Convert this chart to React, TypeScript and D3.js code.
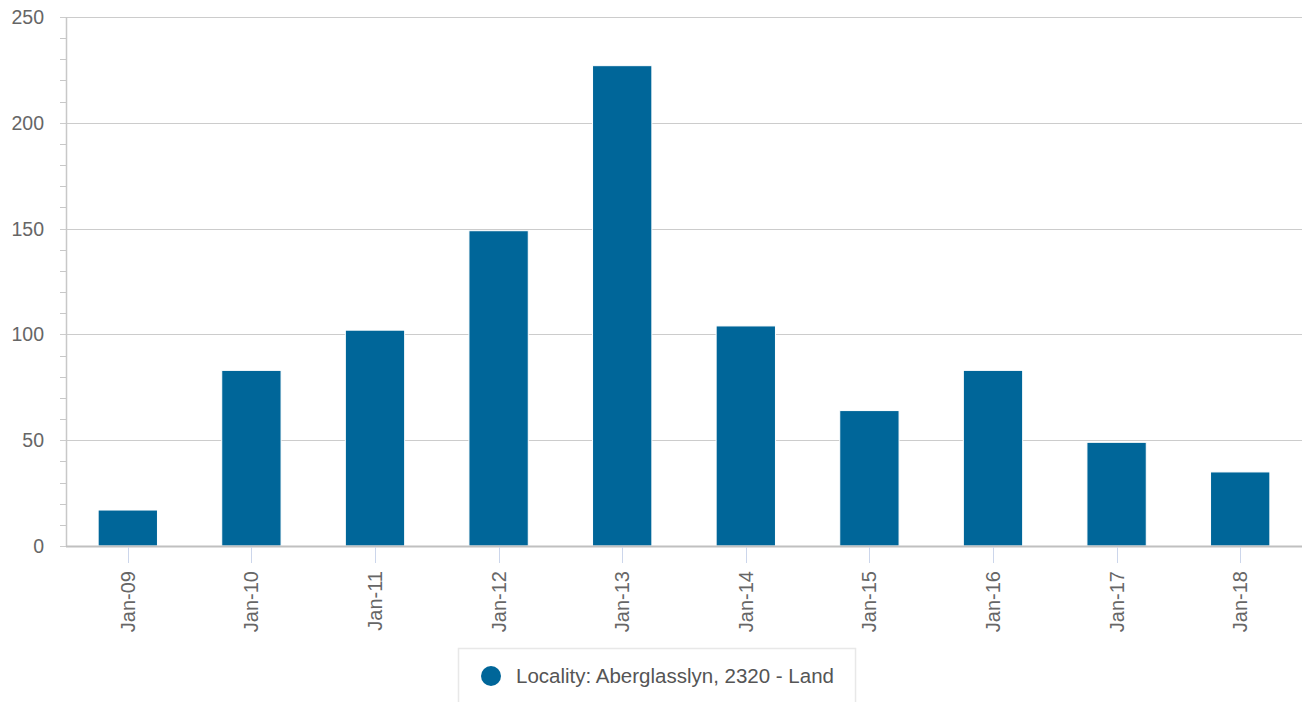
import React, { useEffect, useRef } from "react";
import * as d3 from "d3";

const categories = ["Jan-09", "Jan-10", "Jan-11", "Jan-12", "Jan-13", "Jan-14", "Jan-15", "Jan-16", "Jan-17", "Jan-18"];
const values = [17, 83, 102, 149, 227, 104, 64, 83, 49, 35];
const yTicks = [0, 50, 100, 150, 200, 250];
const seriesName = "Locality: Aberglasslyn, 2320 - Land";

const W = 1302;
const H = 702;
const margin = { top: 17, right: 0, bottom: 156, left: 66 };
const font = "'Liberation Sans', Arial, Helvetica, sans-serif";
const barColor = "#006699";

const App: React.FC = () => {
  const svgRef = useRef<SVGSVGElement | null>(null);

  useEffect(() => {
    if (!svgRef.current) return;
    const svg = d3.select(svgRef.current);
    svg.selectAll("*").remove();

    const innerW = W - margin.left - margin.right;
    const innerH = H - margin.top - margin.bottom;

    const x = d3.scaleBand().domain(categories).range([0, innerW]).paddingInner(0.52).paddingOuter(0.26);
    const y = d3.scaleLinear().domain([0, 250]).range([innerH, 0]);

    const g = svg.append("g").attr("transform", `translate(${margin.left},${margin.top})`);

    // minor ticks on y axis
    const minor = d3.range(0, 251, 10).filter((v) => v % 50 !== 0);
    g.selectAll(".minor")
      .data(minor)
      .enter()
      .append("line")
      .attr("x1", -6)
      .attr("x2", 0)
      .attr("y1", (d) => Math.round(y(d)) + 0.5)
      .attr("y2", (d) => Math.round(y(d)) + 0.5)
      .attr("stroke", "#c8c8c8");

    // gridlines
    g.selectAll(".grid")
      .data(yTicks)
      .enter()
      .append("line")
      .attr("x1", -6)
      .attr("x2", innerW)
      .attr("y1", (d) => Math.round(y(d)) + 0.5)
      .attr("y2", (d) => Math.round(y(d)) + 0.5)
      .attr("stroke", "#cccccc")
      .attr("stroke-width", 1.2);

    // y axis line
    g.append("line")
      .attr("x1", 0.5)
      .attr("x2", 0.5)
      .attr("y1", 0)
      .attr("y2", innerH)
      .attr("stroke", "#c8c8c8")
      .attr("stroke-width", 1.5);

    g.selectAll(".ylabel")
      .data(yTicks)
      .enter()
      .append("text")
      .attr("x", -22)
      .attr("y", (d) => y(d) + 7)
      .attr("text-anchor", "end")
      .style("font-family", font)
      .style("font-size", "19.5px")
      .attr("fill", "#666666")
      .text((d) => d);

    // bars
    g.selectAll(".bar")
      .data(values)
      .enter()
      .append("rect")
      .attr("x", (_, i) => x(categories[i])!)
      .attr("width", x.bandwidth())
      .attr("y", (d) => y(d))
      .attr("height", (d) => innerH - y(d))
      .attr("fill", barColor)
      .attr("stroke", "#ffffff")
      .attr("stroke-width", 1);

    // x axis line
    g.append("line")
      .attr("x1", 0)
      .attr("x2", innerW)
      .attr("y1", innerH + 0.5)
      .attr("y2", innerH + 0.5)
      .attr("stroke", "#c0c0c0")
      .attr("stroke-width", 2);

    // x ticks
    g.selectAll(".xtick")
      .data(categories)
      .enter()
      .append("line")
      .attr("x1", (d) => Math.round(x(d)! + x.bandwidth() / 2) + 0.5)
      .attr("x2", (d) => Math.round(x(d)! + x.bandwidth() / 2) + 0.5)
      .attr("y1", innerH + 1)
      .attr("y2", innerH + 17)
      .attr("stroke", "#ccd6eb");

    g.selectAll(".xlabel")
      .data(categories)
      .enter()
      .append("text")
      .attr("transform", (d) => `translate(${x(d)! + x.bandwidth() / 2 + 7},${innerH + 25}) rotate(-90)`)
      .attr("text-anchor", "end")
      .style("font-family", font)
      .style("font-size", "20px")
      .attr("fill", "#666666")
      .text((d) => d);

    // legend
    const lg = svg.append("g").attr("transform", "translate(458,648)");
    lg.append("rect")
      .attr("x", 0.5)
      .attr("y", 0.5)
      .attr("width", 397)
      .attr("height", 60)
      .attr("fill", "#ffffff")
      .attr("stroke", "#e8e8e8")
      .attr("stroke-width", 1.5);
    lg.append("circle").attr("cx", 33).attr("cy", 28).attr("r", 10).attr("fill", barColor);
    lg.append("text")
      .attr("x", 58)
      .attr("y", 35)
      .style("font-family", font)
      .style("font-size", "20.5px")
      .attr("fill", "#555555")
      .text(seriesName);
  }, []);

  return (
    <svg
      ref={svgRef}
      width={W}
      height={H}
      style={{ position: "absolute", left: 0, top: 0, background: "#ffffff" }}
    />
  );
};

export default App;
